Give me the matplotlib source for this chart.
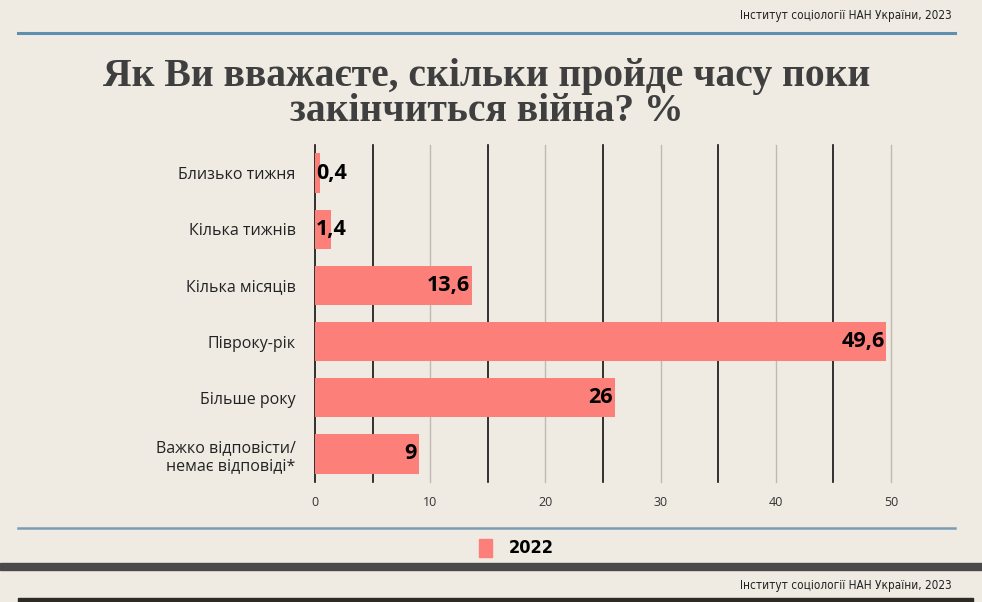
import matplotlib.pyplot as plt
from matplotlib.patches import Rectangle
from matplotlib.lines import Line2D

categories = ["Близько тижня", "Кілька тижнів", "Кілька місяців", "Півроку-рік",
              "Більше року", "Важко відповісти/\nнемає відповіді*"]
values = [0.4, 1.4, 13.6, 49.6, 26, 9]
series_name = "2022"
xticks = [0, 10, 20, 30, 40, 50]
source = "Інститут соціології НАН України, 2023"
title = "Як Ви вважаєте, скільки пройде часу поки\nзакінчиться війна? %"

BG = "#efebe3"
BAR = "#fd7f79"

fig = plt.figure(figsize=(9.82, 6.02), dpi=100, facecolor=BG)
ax = fig.add_axes([0.3208, 0.1993, 0.5866, 0.5598])
ax.set_facecolor(BG)

y = list(range(len(categories)))
# alternating grid: black at odd fives, gray at tens
for g in range(0, 51, 5):
    if g % 10 == 5 or g == 0:
        ax.axvline(g, color="#111111", lw=1.2, zorder=0, clip_on=False)
    else:
        ax.axvline(g, color="#bdbab5", lw=1.0, zorder=0, clip_on=False)

ax.barh(y, values, height=0.7, color=BAR, zorder=2)
for yi, v in zip(y, values):
    txt = f"{v:g}".replace(".", ",")
    if v < 5:
        ax.text(0.1, yi, txt, ha="left", va="center", fontsize=15.5,
                fontweight="bold", family="Open Sans", color="black", zorder=3)
    else:
        ax.text(v - 0.15, yi, txt, ha="right", va="center", fontsize=15.5,
                fontweight="bold", family="Open Sans", color="black", zorder=3)

ax.set_xlim(0, 50)
ax.set_ylim(len(categories) - 0.5, -0.5)
ax.set_yticks(y)
ax.set_yticklabels(categories, family="Open Sans", fontsize=11.5, color="#222222")
ax.set_xticks(xticks)
ax.set_xticklabels([str(t) for t in xticks], family="Open Sans", fontsize=9,
                   color="#333333")
ax.tick_params(axis="y", length=0, pad=14)
ax.tick_params(axis="x", length=0, pad=10)
for s in ax.spines.values():
    s.set_visible(False)

# header
fig.text(952 / 982, 1 - 16 / 602, source, ha="right", va="center", fontsize=8.5,
         family="DejaVu Sans", fontstretch="condensed", color="#222222")
fig.add_artist(Line2D([18 / 982, 955 / 982], [1 - 33 / 602] * 2, color="#5e8fae",
                      lw=2.2))
fig.text(487 / 982, 1 - 94 / 602, title, ha="center", va="center", fontsize=28.5,
         fontweight="bold", family="Liberation Serif", color="#3f3f3f",
         linespacing=0.93)

# footer
fig.add_artist(Line2D([18 / 982, 955 / 982], [1 - 528 / 602] * 2, color="#7b9db4",
                      lw=1.8))
fig.add_artist(Rectangle((479 / 982, 1 - 557 / 602), 13 / 982, 18 / 602,
                         transform=fig.transFigure, color=BAR))
fig.text(509 / 982, 1 - 548 / 602, series_name, ha="left", va="center",
         fontsize=13, fontweight="bold", family="DejaVu Sans",
         fontstretch="condensed", color="black")
fig.add_artist(Rectangle((0, 1 - 570 / 602), 1, 7 / 602,
                         transform=fig.transFigure, color="#4a4a4a"))
fig.text(952 / 982, 1 - 586 / 602, source, ha="right", va="center", fontsize=8.5,
         family="DejaVu Sans", fontstretch="condensed", color="#222222")
fig.add_artist(Rectangle((18 / 982, 0), 955 / 982, 4 / 602,
                         transform=fig.transFigure, color="#2e2a26"))

fig.savefig("out.png", dpi=100, facecolor=BG)
